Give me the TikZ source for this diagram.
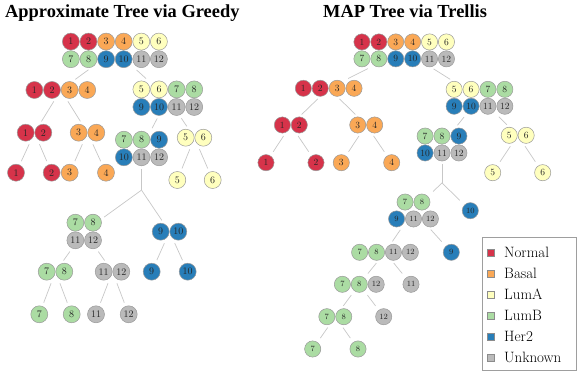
\documentclass[tikz,border=0pt]{standalone}
\usepackage{fontspec}
\newfontfamily\titlefont{Liberation Serif}
\usetikzlibrary{calc}

% subtype colours
\definecolor{nor}{RGB}{214,51,74}
\definecolor{bas}{RGB}{250,168,86}
\definecolor{lua}{RGB}{255,255,190}
\definecolor{lub}{RGB}{171,220,163}
\definecolor{her}{RGB}{40,126,185}
\definecolor{unk}{RGB}{186,186,186}

\tikzset{
  ball/.style={circle,draw=black!40,line width=0.5pt,minimum size=17pt,inner sep=0pt,
    text=black!85,font=\fontsize{10}{12}\selectfont},
  grpbox/.style={rectangle,inner sep=0pt,outer sep=0pt},
  edge/.style={draw=black!22,line width=0.7pt,shorten <=3pt,shorten >=3pt},
  stub/.style={edge,shorten >=0pt},
  fork/.style={edge,shorten <=0pt},
  title/.style={anchor=base west,inner sep=0pt,font=\titlefont\bfseries\fontsize{18.4}{20}\selectfont},
  swatch/.style={draw=black!45,line width=0.4pt,minimum size=7pt,inner sep=0pt},
  legtext/.style={anchor=base west,inner sep=0pt,font=\fontsize{15}{17}\selectfont},
}

\newcommand{\colgap}{17.6}
% one cluster of samples: name, centre, columns, rows, list of dx/dy/label/colour
\newcommand{\grp}[5]{%
  \node[grpbox,minimum width={#3*\colgap pt},minimum height={#4*\colgap pt}] (#1) at (#2) {};
  \begin{scope}[shift={(#2)}]
    \foreach \dx/\dy/\lbl/\col in {#5}
      \node[ball,fill=\col] (#1-\lbl) at (\dx*\colgap,\dy*\colgap) {\lbl};
  \end{scope}}

\begin{document}
\begin{tikzpicture}[x=1pt,y=-1pt]
  \useasboundingbox (0,0) rectangle (581,379);

  \node[title] (tgreedy) at (5,17.7) {Approximate Tree via Greedy};
  \node[title] (ttrellis) at (323,17.5) {MAP Tree via Trellis};

  % greedy tree
  \grp{gR}{114.9,50.4}{6}{2}{-2.5/-.5/1/nor,-1.5/-.5/2/nor,-.5/-.5/3/bas,.5/-.5/4/bas,1.5/-.5/5/lua,2.5/-.5/6/lua,
    -2.5/.5/7/lub,-1.5/.5/8/lub,-.5/.5/9/her,.5/.5/10/her,1.5/.5/11/unk,2.5/.5/12/unk}
  \grp{gA}{60.8,90}{4}{1}{-1.5/0/1/nor,-.5/0/2/nor,.5/0/3/bas,1.5/0/4/bas}
  \grp{gB}{167.8,98.2}{4}{2}{-1.5/-.5/5/lua,-.5/-.5/6/lua,.5/-.5/7/lub,1.5/-.5/8/lub,
    -1.5/.5/9/her,-.5/.5/10/her,.5/.5/11/unk,1.5/.5/12/unk}
  \grp{gAA}{34.5,132.7}{2}{1}{-.5/0/1/nor,.5/0/2/nor}
  \grp{gAB}{87.5,132.7}{2}{1}{-.5/0/3/bas,.5/0/4/bas}
  \grp{gAA1}{16,172.7}{1}{1}{0/0/1/nor}
  \grp{gAA2}{51.7,172.7}{1}{1}{0/0/2/nor}
  \grp{gAB3}{69.7,172.7}{1}{1}{0/0/3/bas}
  \grp{gAB4}{106,172.7}{1}{1}{0/0/4/bas}
  \grp{gBA}{141.5,148.5}{3}{2}{-1/-.5/7/lub,0/-.5/8/lub,1/-.5/9/her,-1/.5/10/her,0/.5/11/unk,1/.5/12/unk}
  \grp{gBB}{194.5,137.7}{2}{1}{-.5/0/5/lua,.5/0/6/lua}
  \grp{gBB5}{177.3,180}{1}{1}{0/0/5/lua}
  \grp{gBB6}{212.7,180}{1}{1}{0/0/6/lua}
  \coordinate (gBAx) at ($(gBA.south)+(0,24)$);
  \grp{gBAA}{84.2,231.5}{2}{2}{-.5/-.5/7/lub,.5/-.5/8/lub,-.5/.5/11/unk,.5/.5/12/unk}
  \grp{gBAB}{169.5,231.7}{2}{1}{-.5/0/9/her,.5/0/10/her}
  \grp{gBAAA}{55.5,271.7}{2}{1}{-.5/0/7/lub,.5/0/8/lub}
  \grp{gBAAB}{112.5,271.7}{2}{1}{-.5/0/11/unk,.5/0/12/unk}
  \grp{gBAB9}{151.7,271.7}{1}{1}{0/0/9/her}
  \grp{gBAB10}{187.7,271.7}{1}{1}{0/0/10/her}
  \grp{gBAAA7}{39.3,314.3}{1}{1}{0/0/7/lub}
  \grp{gBAAA8}{71.7,314.3}{1}{1}{0/0/8/lub}
  \grp{gBAAB11}{96,314.3}{1}{1}{0/0/11/unk}
  \grp{gBAAB12}{128.7,314.3}{1}{1}{0/0/12/unk}

  \foreach \a/\b in {gR/gA,gR/gB,gA/gAA,gA/gAB,gAA/gAA1,gAA/gAA2,gAB/gAB3,gAB/gAB4,
    gB/gBA,gB/gBB,gBB/gBB5,gBB/gBB6,gBAA/gBAAA,gBAA/gBAAB,gBAB/gBAB9,gBAB/gBAB10,
    gBAAA/gBAAA7,gBAAA/gBAAA8,gBAAB/gBAAB11,gBAAB/gBAAB12}
    \draw[edge] (\a) -- (\b);
  \draw[stub] (gBA.south) -- (gBAx);
  \draw[fork] (gBAx) -- (gBAA);
  \draw[fork] (gBAx) -- (gBAB);

  % trellis tree
  \begin{scope}[ball/.append style={minimum size=16.2pt,font=\fontsize{9.5}{11}\selectfont}]
    \renewcommand{\colgap}{16.9}
    \grp{tR}{404.2,50.4}{6}{2}{-2.5/-.5/1/nor,-1.5/-.5/2/nor,-.5/-.5/3/bas,.5/-.5/4/bas,1.5/-.5/5/lua,2.5/-.5/6/lua,
      -2.5/.5/7/lub,-1.5/.5/8/lub,-.5/.5/9/her,.5/.5/10/her,1.5/.5/11/unk,2.5/.5/12/unk}
    \grp{tA}{328.7,88.3}{4}{1}{-1.5/0/1/nor,-.5/0/2/nor,.5/0/3/bas,1.5/0/4/bas}
    \grp{tB}{479.5,97.8}{4}{2}{-1.5/-.5/5/lua,-.5/-.5/6/lua,.5/-.5/7/lub,1.5/-.5/8/lub,
      -1.5/.5/9/her,-.5/.5/10/her,.5/.5/11/unk,1.5/.5/12/unk}
    \grp{tAA}{290.8,125}{2}{1}{-.5/0/1/nor,.5/0/2/nor}
    \grp{tAB}{366.2,125}{2}{1}{-.5/0/3/bas,.5/0/4/bas}
    \grp{tAA1}{266,162.7}{1}{1}{0/0/1/nor}
    \grp{tAA2}{316,162.7}{1}{1}{0/0/2/nor}
    \grp{tAB3}{341.3,162.7}{1}{1}{0/0/3/bas}
    \grp{tAB4}{391.7,162.7}{1}{1}{0/0/4/bas}
    \grp{tBA}{442,144.5}{3}{2}{-1/-.5/7/lub,0/-.5/8/lub,1/-.5/9/her,-1/.5/10/her,0/.5/11/unk,1/.5/12/unk}
    \grp{tBB}{517.7,135.3}{2}{1}{-.5/0/5/lua,.5/0/6/lua}
    \grp{tBB5}{492.7,172.7}{1}{1}{0/0/5/lua}
    \grp{tBB6}{542.7,172.7}{1}{1}{0/0/6/lua}
    \coordinate (tBAx) at ($(tBA.south)+(0,21.5)$);
    \begin{scope}[ball/.append style={font=\fontsize{8}{9}\selectfont}]
      \grp{tBAA}{413.5,210.5}{3}{2}{-.5/-.5/7/lub,.5/-.5/8/lub,-1/.5/9/her,0/.5/11/unk,1/.5/12/unk}
      \grp{tBAB}{470.3,210.7}{1}{1}{0/0/10/her}
      \grp{tBAAA}{385,252.3}{4}{1}{-1.5/0/7/lub,-.5/0/8/lub,.5/0/11/unk,1.5/0/12/unk}
      \grp{tBAAB}{451.3,252.3}{1}{1}{0/0/9/her}
      \grp{tBAAAA}{359.3,284.3}{3}{1}{-1/0/7/lub,0/0/8/lub,1/0/12/unk}
      \grp{tBAAAB}{411,284.3}{1}{1}{0/0/11/unk}
      \grp{tBAAAAA}{335.3,316.7}{2}{1}{-.5/0/7/lub,.5/0/8/lub}
      \grp{tBAAAAB}{383.7,316.7}{1}{1}{0/0/12/unk}
      \grp{tBAAAAA7}{312.7,349}{1}{1}{0/0/7/lub}
      \grp{tBAAAAA8}{358,349}{1}{1}{0/0/8/lub}
    \end{scope}
  \end{scope}

  \foreach \a/\b in {tR/tA,tR/tB,tA/tAA,tA/tAB,tAA/tAA1,tAA/tAA2,tAB/tAB3,tAB/tAB4,
    tB/tBA,tB/tBB,tBB/tBB5,tBB/tBB6,tBAA/tBAAA,tBAA/tBAAB,tBAAA/tBAAAA,tBAAA/tBAAAB,
    tBAAAA/tBAAAAA,tBAAAA/tBAAAAB,tBAAAAA/tBAAAAA7,tBAAAAA/tBAAAAA8}
    \draw[edge] (\a) -- (\b);
  \draw[stub] (tBA.south) -- (tBAx);
  \draw[fork] (tBAx) -- (tBAA);
  \draw[fork] (tBAx) -- (tBAB);

  % legend
  \draw[black!38,line width=0.8pt] (482.7,237.7) rectangle (576.7,370);
  \foreach \lab/\col [count=\i] in {Normal/nor,Basal/bas,LumA/lua,LumB/lub,Her2/her,Unknown/unk} {
    \node[swatch,fill=\col] (sw\i) at (490.7,231.2+21.1*\i) {};
    \node[legtext] (lt\i) at ($(sw\i)+(13.3,5)$) {\lab};
  }
\end{tikzpicture}
\end{document}
